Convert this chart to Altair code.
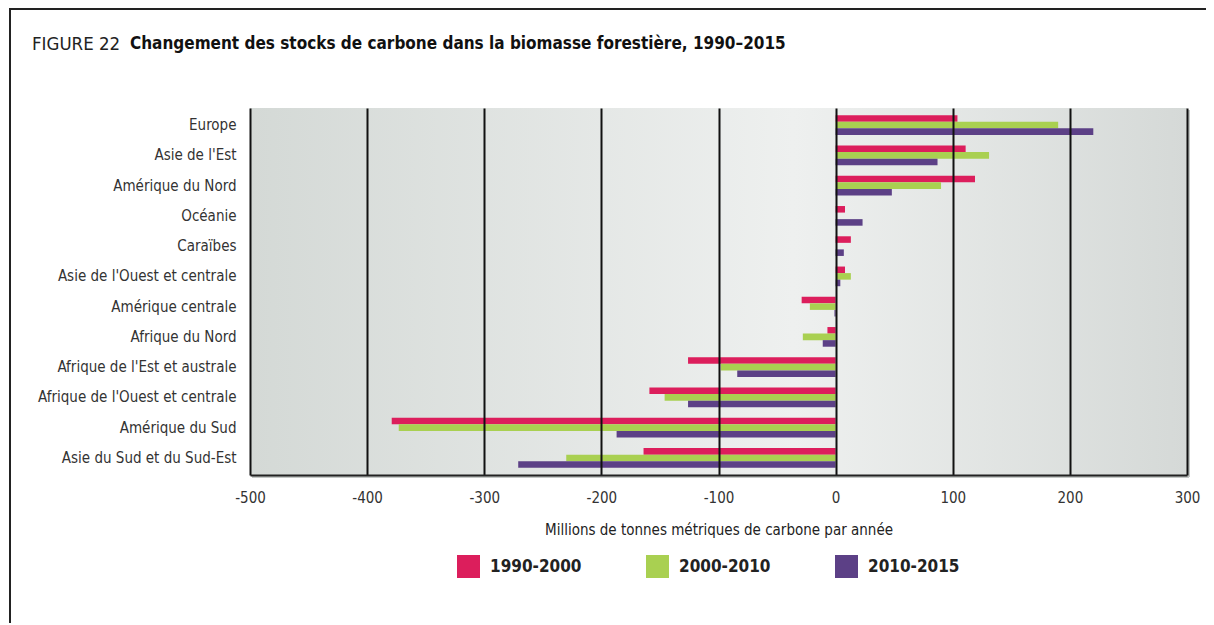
import altair as alt
import pandas as pd

regions = [
    "Europe", "Asie de l'Est", "Amérique du Nord", "Océanie", "Caraïbes",
    "Asie de l'Ouest et centrale", "Amérique centrale", "Afrique du Nord",
    "Afrique de l'Est et australe", "Afrique de l'Ouest et centrale",
    "Amérique du Sud", "Asie du Sud et du Sud-Est",
]
periods = ["1990-2000", "2000-2010", "2010-2015"]
v_1990_2000 = [104, 111, 119, 8, 13, 8, -29, -7, -126, -159, -379, -164]
v_2000_2010 = [190, 131, 90, 0, 0, 13, -22, -28, -98, -146, -373, -230]
v_2010_2015 = [220, 87, 48, 23, 7, 4, -1, -11, -84, -126, -187, -271]
colors = ["#DC1E5C", "#A9D051", "#5C4086"]
x_ticks = [-500, -400, -300, -200, -100, 0, 100, 200, 300]

title_prefix = "FIGURE 22"
title_main = "Changement des stocks de carbone dans la biomasse forestière, 1990–2015"
x_title = "Millions de tonnes métriques de carbone par année"

rows = []
for p, vals in zip(periods, [v_1990_2000, v_2000_2010, v_2010_2015]):
    for r, v in zip(regions, vals):
        rows.append({"region": r, "period": p, "value": v})
df = pd.DataFrame(rows)

FONT = "Liberation Sans Narrow, DejaVu Sans Condensed, Roboto, sans-serif"
W, H = 937, 367

one = alt.Data(values=[{"k": 1}])

bg = alt.Chart(one).mark_rect(
    fill=alt.Gradient(
        gradient="linear",
        stops=[
            alt.GradientStop(offset=0, color="#d4d9d6"),
            alt.GradientStop(offset=0.58, color="#eef0ef"),
            alt.GradientStop(offset=1, color="#d5d9d7"),
        ],
        x1=0, x2=1, y1=0, y2=0,
    )
).encode(x=alt.value(0), x2=alt.value(W), y=alt.value(0), y2=alt.value(H))

shadow_r = alt.Chart(one).mark_rule(color="#c4c8c6", strokeWidth=2).encode(
    x=alt.value(W + 2), y=alt.value(2), y2=alt.value(H + 2))
shadow_b = alt.Chart(one).mark_rule(color="#c4c8c6", strokeWidth=2).encode(
    x=alt.value(2), x2=alt.value(W + 2), y=alt.value(H + 2))

bars = alt.Chart(df).mark_bar().encode(
    x=alt.X("value:Q", scale=alt.Scale(domain=[-500, 300], nice=False),
            axis=alt.Axis(values=x_ticks, title=x_title, grid=True, zindex=1,
                          labelExpr="datum.value + ''", labelFlush=False)),
    y=alt.Y("region:N", sort=regions,
            scale=alt.Scale(paddingInner=0.35, paddingOuter=0.24),
            axis=alt.Axis(title=None)),
    yOffset=alt.YOffset("period:N", sort=periods),
    color=alt.Color("period:N", sort=periods,
                    scale=alt.Scale(domain=periods, range=colors),
                    legend=alt.Legend(title=None)),
)

frame_top = alt.Chart(one).mark_rule(color="#222", strokeWidth=2).encode(
    x=alt.value(-240), x2=alt.value(W + 30), y=alt.value(-99))
frame_left = alt.Chart(one).mark_rule(color="#222", strokeWidth=2).encode(
    x=alt.value(-240), y=alt.value(-100), y2=alt.value(H + 160))

t1 = alt.Chart(one).mark_text(
    align="left", baseline="middle", font=FONT, fontSize=18.5, color="#222"
).encode(x=alt.value(-218), y=alt.value(-64), text=alt.value(title_prefix))
t2 = alt.Chart(one).mark_text(
    align="left", baseline="middle", font=FONT, fontSize=17, fontWeight="bold",
    color="#111"
).encode(x=alt.value(-120), y=alt.value(-64), text=alt.value(title_main))

chart = alt.layer(bg, shadow_r, shadow_b, bars, frame_top, frame_left, t1, t2).properties(
    width=W, height=H,
    autosize=alt.AutoSizeParams(type="none"),
    padding={"left": 242, "top": 100, "right": 19, "bottom": 148},
).configure_view(stroke=None).configure_axisX(
    gridColor="#111", gridWidth=2, gridOpacity=1,
    domainColor="#222", domainWidth=2, ticks=False,
    labelFont=FONT, labelFontSize=15, labelColor="#333", labelPadding=15,
    titleFont=FONT, titleFontSize=15, titleFontWeight="normal", titleColor="#222",
    titlePadding=17,
).configure_axisY(
    domain=False, ticks=False, grid=False,
    labelFont=FONT, labelFontSize=15, labelColor="#333", labelPadding=14,
    labelLimit=300,
).configure_legend(
    orient="none", legendX=207, legendY=447, direction="horizontal",
    symbolType="square", symbolSize=529, symbolStrokeWidth=0, symbolOpacity=1,
    labelFont=FONT, labelFontSize=17, labelFontWeight="bold", labelColor="#222",
    labelOffset=10, columnPadding=64, padding=0,
)

chart.save("out.html", embed_options={"renderer": "svg", "actions": False})
